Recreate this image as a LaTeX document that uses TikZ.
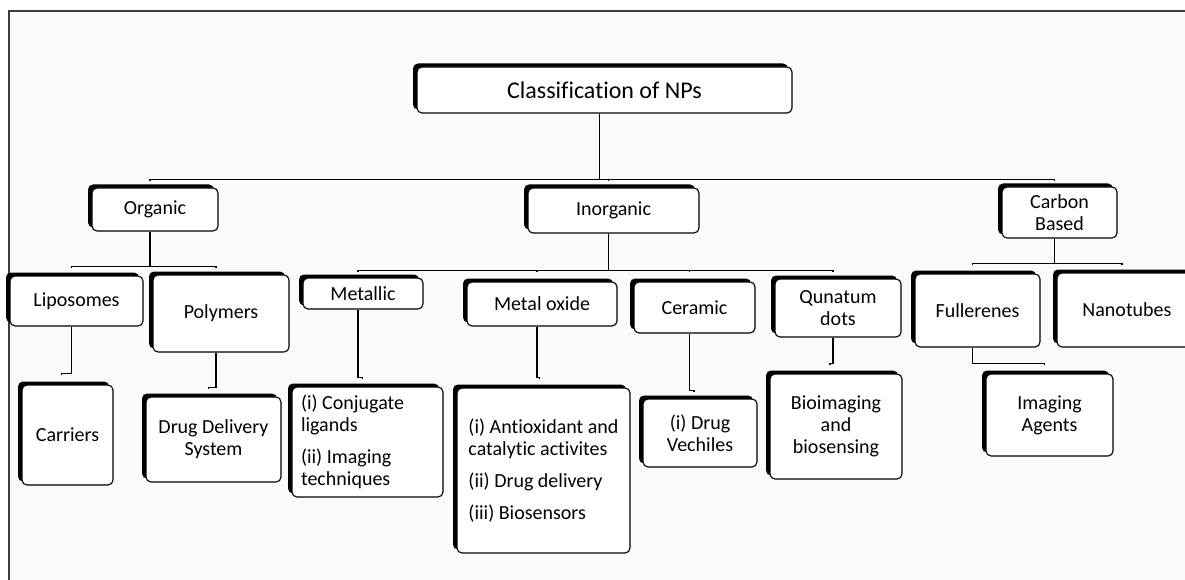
\documentclass[tikz,border=0pt]{standalone}
\usepackage{fontspec}
\setmainfont{Carlito}[Ligatures=NoCommon]
\usetikzlibrary{shadows}
\definecolor{framegray}{RGB}{60,60,60}
\definecolor{bggray}{RGB}{250,250,250}
\tikzset{
  box/.style={draw=black, line width=1.1pt, fill=white, rounded corners=5pt,
    inner xsep=2pt, inner ysep=0pt, align=center,
    font=\fontsize{20}{22}\selectfont,
    drop shadow={shadow xshift=-4pt, shadow yshift=3.5pt, opacity=1, fill=black}},
  conn/.style={draw=black, line width=1.1pt, shorten >=#1},
  conn/.default=6pt
}
\begin{document}
\begin{tikzpicture}[x=1pt,y=-1pt]
\useasboundingbox (0,0) rectangle (1185,580);
\clip (0,0) rectangle (1185,580);
\fill[white] (0,0) rectangle (1185,580);
\fill[bggray] (9,11) rectangle (1185,580);
\draw[framegray, line width=1.3pt] (9,580) -- (9,11) -- (1185,11);

% level 0
\node[box, minimum width=375pt, minimum height=46pt, font=\fontsize{24}{26}\selectfont] (root) at (604.5,90) {Classification of NPs};
% level 1
\node[box, minimum width=126pt, minimum height=43pt] (org) at (155,209.5) {Organic};
\node[box, minimum width=171pt, minimum height=45pt] (inorg) at (613.5,210.5) {Inorganic};
\node[box, minimum width=115pt, minimum height=51pt] (carb) at (1059.5,212.5) {Carbon\\Based};
% level 2
\node[box, minimum width=133pt, minimum height=50pt] (lip) at (76.5,301) {Liposomes};
\node[box, minimum width=136pt, minimum height=77pt] (poly) at (221,313.5) {Polymers};
\node[box, minimum width=120pt, minimum height=31pt] (met) at (363,293.5) {Metallic};
\node[box, minimum width=150pt, minimum height=44pt] (mox) at (542,304) {Metal oxide};
\node[box, minimum width=121pt, minimum height=51pt] (cer) at (694.5,307.5) {Ceramic};
\node[box, minimum width=126pt, minimum height=58pt] (qd) at (838,308) {Qunatum\\dots};
\node[box, minimum width=125pt, minimum height=73pt] (ful) at (977.5,310.5) {Fullerenes};
\node[box, minimum width=140pt, minimum height=74pt] (nano) at (1127,310) {Nanotubes};
% level 3
\node[box, minimum width=91pt, minimum height=100pt] (car) at (67.5,435) {Carriers};
\node[box, minimum width=135pt, minimum height=85pt] (dds) at (213.5,439.5) {Drug Delivery\\System};
\node[box, minimum width=151pt, minimum height=110pt, text width=133pt, inner xsep=9pt, align=flush left] (conj) at (367.5,442)
  {(i) Conjugate\\ligands\\[10pt](ii) Imaging\\techniques};
\node[box, minimum width=173pt, minimum height=165pt, align=left] (moxc) at (543.5,470.5)
  {(i) Antioxidant and\\catalytic activites\\[10pt](ii) Drug delivery\\[10pt](iii) Biosensors};
\node[box, minimum width=114pt, minimum height=68pt] (dv) at (700,433) {(i) Drug\\Vechiles};
\node[box, minimum width=132pt, minimum height=105pt] (bio) at (836,426.5) {Bioimaging\\and\\biosensing};
\node[box, minimum width=127pt, minimum height=82pt] (img) at (1049.5,415) {Imaging\\Agents};

% connectors
\draw[conn=6pt] ([xshift=-5pt]root.south) -- ++(0,66) -| ([xshift=-5pt]org.north);
\draw[conn=6pt] ([xshift=-5pt]root.south) -- ++(0,66) -| ([xshift=-5pt]inorg.north);
\draw[conn=5pt] ([xshift=-5pt]root.south) -- ++(0,66) -| ([xshift=-5pt]carb.north);

\draw[conn=7pt] ([xshift=-5pt]org.south) -- ++(0,35) -| ([xshift=-5pt]lip.north);
\draw[conn=6pt] ([xshift=-5pt]org.south) -- ++(0,35) -| ([xshift=-5pt]poly.north);

\draw[conn=5pt] ([xshift=-5pt]inorg.south) -- ++(0,37) -| ([xshift=-5pt]met.north);
\draw[conn=9pt] ([xshift=-5pt]inorg.south) -- ++(0,37) -| ([xshift=-5pt]mox.north);
\draw[conn=9pt] ([xshift=-5pt]inorg.south) -- ++(0,37) -| ([xshift=-5pt]cer.north);
\draw[conn=6pt] ([xshift=-5pt]inorg.south) -- ++(0,37) -| ([xshift=-5pt]qd.north);

\draw[conn=8pt] ([xshift=-5pt]carb.south) -- ++(0,25) -| ([xshift=-5pt]ful.north);
\draw[conn=7pt] ([xshift=-5pt]carb.south) -- ++(0,25) -| ([xshift=-5pt]nano.north);

\draw[conn=9pt] ([xshift=-5pt]lip.south) -- ++(0,47) -| ([xshift=-6pt]car.north);
\draw[conn=7pt] ([xshift=-5pt]poly.south) -- ++(0,35) -| ([xshift=-5pt]dds.north);
\draw[conn=7pt] ([xshift=-5pt]met.south) -- ++(0,68) -| ([xshift=-5pt]conj.north);
\draw[conn=8pt] ([xshift=-5pt]mox.south) -- ++(0,51) -| ([xshift=-4pt]moxc.north);
\draw[conn=6pt] ([xshift=-5pt]cer.south) -- ++(0,57) -| ([xshift=-6pt]dv.north);
\draw[conn=8pt] ([xshift=-5pt]qd.south) -- ++(0,26) -| ([xshift=-6pt]bio.north);
\draw[conn=8pt] ([xshift=-5pt]ful.south) -- ++(0,16) -| ([xshift=-5pt]img.north);
\end{tikzpicture}
\end{document}
